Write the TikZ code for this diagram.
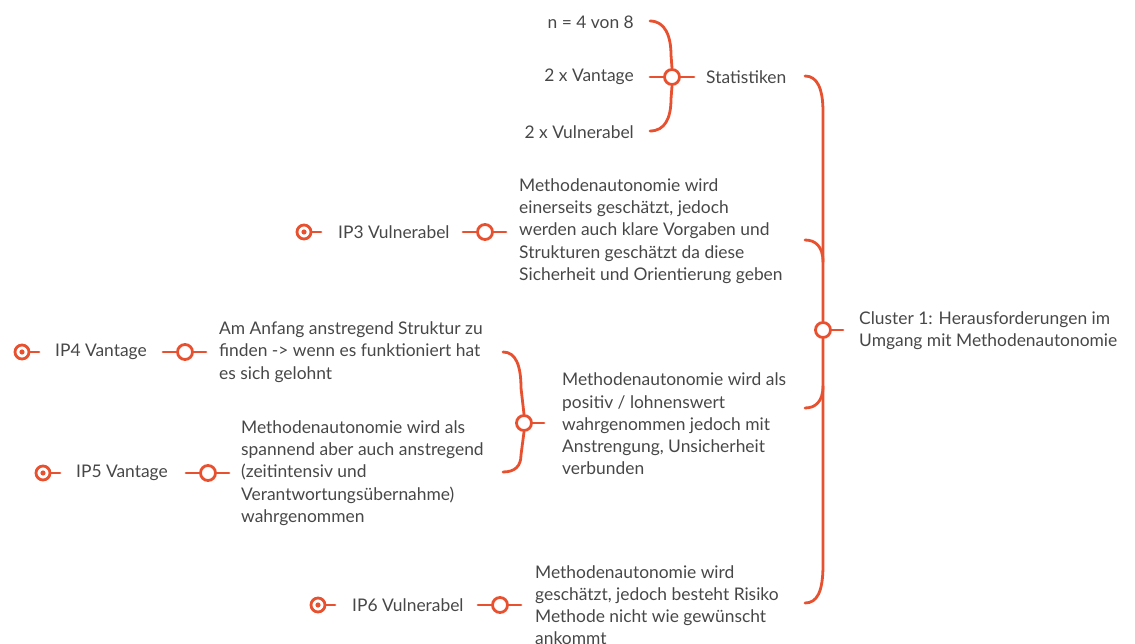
\documentclass[tikz,border=0pt]{standalone}
\usepackage{fontspec}
\setmainfont{Lato}
\definecolor{org}{HTML}{E8512F}
\definecolor{txtc}{HTML}{474747}
\begin{document}
\begin{tikzpicture}[x=1pt,y=-1pt,
  txt/.style={font=\fontsize{17.4}{22.2}\selectfont, text=txtc, align=left, inner sep=0pt},
  hub/.style={circle, draw=org, line width=2.8pt, fill=white, minimum size=15pt, inner sep=0pt},
  endm/.style={circle, draw=org, line width=2.8pt, fill=white, minimum size=14pt, inner sep=0pt,
    path picture={\fill[org] (path picture bounding box.center) circle (2.6pt);}},
  con/.style={draw=org, line width=2.8pt, line cap=round}]
\useasboundingbox (0,0) rectangle (1135,644);

% ---------- text nodes ----------
\node[txt, anchor=west] (cl) at (859,331) {Cluster 1: Herausforderungen im\\Umgang mit Methodenautonomie};
\node[txt, anchor=west] (stat) at (706,77) {Statistiken};
\node[txt, anchor=east] (n4) at (634,22) {n = 4 von 8};
\node[txt, anchor=east] (v2) at (634,77) {2 x Vantage};
\node[txt, anchor=east] (vu2) at (634,132) {2 x Vulnerabel};

\node[txt, anchor=west] (t3) at (519,231) {Methodenautonomie wird\\einerseits geschätzt, jedoch\\werden auch klare Vorgaben und\\Strukturen geschätzt da diese\\Sicherheit und Orientierung geben};
\node[txt, anchor=west] (l3) at (338,232) {IP3 Vulnerabel};

\node[txt, anchor=west] (t4) at (219,352) {Am Anfang anstregend Struktur zu\\finden -> wenn es funktioniert hat\\es sich gelohnt};
\node[txt, anchor=west] (l4) at (55,352) {IP4 Vantage};

\node[txt, anchor=west] (t5) at (241,473) {Methodenautonomie wird als\\spannend aber auch anstregend\\(zeitintensiv und\\Verantwortungsübernahme)\\wahrgenommen};
\node[txt, anchor=west] (l5) at (76,473) {IP5 Vantage};

\node[txt, anchor=west] (tm) at (562,424) {Methodenautonomie wird als\\positiv / lohnenswert\\wahrgenommen jedoch mit\\Anstrengung, Unsicherheit\\verbunden};

\node[txt, anchor=west] (t6) at (535,605) {Methodenautonomie wird\\geschätzt, jedoch besteht Risiko\\Methode nicht wie gewünscht\\ankommt};
\node[txt, anchor=west] (l6) at (352,605) {IP6 Vulnerabel};

% ---------- hubs and end markers ----------
\node[hub] (hc) at (823,330) {};
\node[hub] (hs) at (672,77) {};
\node[hub] (hm) at (524,423) {};
\node[hub] (h3) at (485,232) {};
\node[hub] (h4) at (185,352) {};
\node[hub] (h5) at (208,473) {};
\node[hub] (h6) at (500,605) {};

\node[endm] (m3) at (304,232) {};
\node[endm] (m4) at (22,352) {};
\node[endm] (m5) at (43,473) {};
\node[endm] (m6) at (318,605) {};

% ---------- coordinates for free ends ----------
\coordinate (hcR) at (843,330);
\coordinate (bTop) at (805,76);
\coordinate (bBot) at (805,603);
\coordinate (b2) at (805,240);
\coordinate (b3) at (805,408);

\coordinate (hsR) at (694,77);
\coordinate (sTop) at (650,21);
\coordinate (sMid) at (650,77);
\coordinate (sBot) at (650,131);

\coordinate (hmR) at (544,423);
\coordinate (mTop) at (503,352);
\coordinate (mBot) at (503,472);

\coordinate (h3L) at (463,232); \coordinate (h3R) at (506,232);
\coordinate (h4L) at (163,352); \coordinate (h4R) at (206,352);
\coordinate (h5L) at (186,473); \coordinate (h5R) at (229,473);
\coordinate (h6L) at (478,605); \coordinate (h6R) at (521,605);

\coordinate (m3R) at (321,232);
\coordinate (m4R) at (39,352);
\coordinate (m5R) at (60,473);
\coordinate (m6R) at (335,605);

% ---------- connectors ----------
% big brace
\draw[con] (bTop) .. controls (817,76) and (823,88) .. (823,112) -- (hc.north);
\draw[con] (hc.south) -- (823,565) .. controls (823,592) and (817,603) .. (bBot);
\draw[con] (b2) .. controls (815,240) and (823,246) .. (823,262);
\draw[con] (b3) .. controls (815,408) and (823,402) .. (823,386);
\draw[con] (hc.east) -- (hcR);

% statistics brace
\draw[con] (sTop) .. controls (665,21) and (671,36) .. (671,55) -- (hs.north);
\draw[con] (hs.south) -- (671,99) .. controls (671,118) and (665,131) .. (sBot);
\draw[con] (sMid) -- (hs.west);
\draw[con] (hs.east) -- (hsR);

% middle brace
\draw[con] (mTop) .. controls (516,352) and (521,366) .. (521,388) -- (hm.north);
\draw[con] (hm.south) -- (521,455) .. controls (521,466) and (515,472) .. (mBot);
\draw[con] (hm.east) -- (hmR);

% hub stubs
\draw[con] (h3L) -- (h3.west); \draw[con] (h3.east) -- (h3R);
\draw[con] (h4L) -- (h4.west); \draw[con] (h4.east) -- (h4R);
\draw[con] (h5L) -- (h5.west); \draw[con] (h5.east) -- (h5R);
\draw[con] (h6L) -- (h6.west); \draw[con] (h6.east) -- (h6R);

% end marker stubs
\draw[con] (m3.east) -- (m3R);
\draw[con] (m4.east) -- (m4R);
\draw[con] (m5.east) -- (m5R);
\draw[con] (m6.east) -- (m6R);
\end{tikzpicture}
\end{document}
